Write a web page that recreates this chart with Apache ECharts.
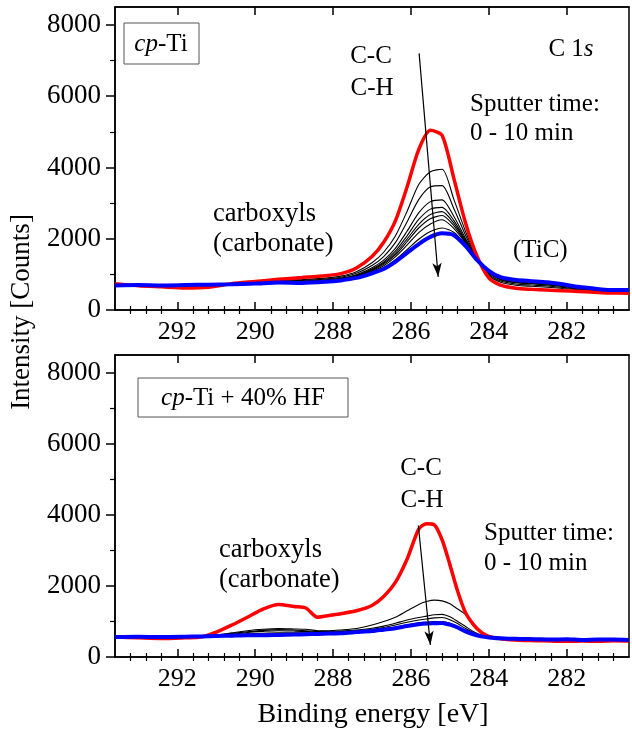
<!DOCTYPE html>
<html>
<head>
<meta charset="utf-8">
<script src="https://cdn.jsdelivr.net/npm/echarts@6/dist/echarts.min.js"></script>
<style>
html,body{margin:0;padding:0;background:#fff;}
#chart{width:632px;height:742px;}
</style>
</head>
<body>
<div id="chart"></div>
<script>
// binding energy (eV) sampled for each panel
var energyTop = [293.6, 293.0, 292.4, 291.8, 291.2, 290.6, 290.0, 289.4, 288.8, 288.2, 287.8, 287.4, 287.0, 286.7, 286.4, 286.1, 285.8, 285.5, 285.2, 284.9, 284.6, 284.3, 284.0, 283.7, 283.3, 282.9, 282.5, 282.1, 281.7, 281.3, 280.9, 280.4];
var redTop  = [740, 680, 650, 620, 640, 740, 800, 860, 910, 960, 1020, 1180, 1500, 1900, 2500, 3450, 4500, 5040, 4900, 3700, 2450, 1500, 900, 700, 610, 580, 560, 540, 520, 500, 480, 470];
var blueTop = [690, 700, 690, 700, 710, 720, 740, 770, 760, 790, 830, 900, 1030, 1150, 1350, 1600, 1850, 2050, 2150, 2100, 1800, 1400, 1100, 920, 840, 810, 780, 720, 650, 600, 560, 560];
// intermediate sputter steps (black)
var blackTop = [
  [720, 690, 665, 650, 665, 735, 780, 825, 855, 895, 950, 1075, 1325, 1620, 2075, 2765, 3520, 3880, 3950, 3110, 2210, 1460, 975, 780, 695, 665, 640, 605, 570, 535, 510, 505],
  [715, 690, 670, 660, 675, 730, 770, 810, 830, 870, 920, 1030, 1250, 1500, 1890, 2470, 3095, 3455, 3490, 2850, 2105, 1445, 1005, 815, 730, 700, 675, 635, 590, 555, 520, 520],
  [705, 695, 675, 675, 685, 725, 760, 800, 810, 845, 895, 990, 1185, 1400, 1730, 2210, 2725, 3040, 3090, 2630, 2015, 1435, 1035, 845, 765, 735, 705, 660, 605, 565, 535, 530],
  [700, 695, 680, 680, 690, 725, 755, 795, 800, 835, 880, 975, 1150, 1345, 1650, 2080, 2540, 2830, 2880, 2515, 1970, 1425, 1050, 865, 780, 750, 725, 675, 615, 575, 540, 535],
  [700, 695, 680, 685, 695, 725, 755, 790, 790, 825, 870, 960, 1130, 1310, 1590, 1990, 2405, 2680, 2760, 2435, 1935, 1420, 1060, 875, 790, 760, 735, 680, 625, 580, 545, 540],
  [700, 695, 685, 685, 700, 720, 750, 785, 785, 820, 860, 950, 1110, 1280, 1545, 1915, 2300, 2560, 2650, 2370, 1910, 1415, 1065, 885, 800, 770, 745, 690, 630, 585, 545, 545],
  [695, 700, 685, 690, 700, 720, 745, 780, 780, 810, 855, 935, 1085, 1240, 1490, 1820, 2170, 2410, 2530, 2290, 1880, 1410, 1075, 895, 810, 780, 755, 700, 635, 590, 550, 550],
  [695, 700, 690, 695, 705, 720, 745, 775, 770, 800, 840, 915, 1055, 1190, 1410, 1695, 1985, 2200, 2300, 2180, 1835, 1405, 1090, 910, 830, 800, 770, 710, 645, 595, 555, 555]
];

var energyBot = [293.6, 293.0, 292.4, 291.8, 291.4, 291.0, 290.6, 290.2, 289.8, 289.4, 289.0, 288.7, 288.4, 288.1, 287.8, 287.4, 287.0, 286.7, 286.4, 286.1, 285.8, 285.6, 285.4, 285.2, 285.0, 284.8, 284.6, 284.4, 284.2, 284.0, 283.6, 283.2, 282.8, 282.4, 282.0, 281.6, 281.2, 280.8, 280.4];
var redBot  = [560, 540, 520, 540, 560, 700, 900, 1120, 1350, 1480, 1420, 1380, 1120, 1170, 1220, 1300, 1450, 1700, 2100, 2750, 3600, 3750, 3720, 3300, 2600, 1850, 1250, 920, 700, 580, 500, 470, 460, 450, 440, 450, 440, 460, 450];
var blueBot = [560, 570, 560, 570, 580, 590, 600, 610, 610, 620, 630, 640, 650, 660, 670, 700, 730, 770, 810, 870, 920, 940, 950, 960, 910, 830, 720, 640, 580, 550, 520, 510, 500, 490, 500, 480, 490, 490, 480];
var blackBot = [
  [560, 555, 550, 560, 575, 620, 680, 740, 780, 800, 790, 780, 740, 740, 760, 800, 900, 1000, 1120, 1300, 1480, 1560, 1600, 1580, 1500, 1350, 1200, 950, 720, 600, 520, 490, 480, 470, 465, 470, 460, 470, 465],
  [560, 560, 555, 565, 575, 610, 660, 710, 750, 770, 760, 740, 720, 720, 730, 760, 810, 870, 950, 1040, 1110, 1150, 1190, 1200, 1130, 1000, 860, 720, 620, 570, 520, 500, 490, 480, 480, 475, 475, 480, 470],
  [560, 565, 560, 570, 580, 600, 640, 690, 720, 740, 730, 720, 700, 700, 715, 740, 780, 830, 900, 980, 1040, 1070, 1100, 1110, 1050, 940, 800, 690, 600, 560, 515, 505, 495, 485, 485, 480, 480, 485, 475],
  [560, 565, 560, 570, 580, 595, 620, 650, 670, 680, 680, 680, 670, 680, 690, 715, 750, 790, 840, 900, 960, 980, 1000, 1000, 950, 860, 750, 660, 590, 555, 515, 505, 495, 485, 490, 480, 485, 485, 475]
];

// axis ticks
var xMajorTicks = [282, 284, 286, 288, 290, 292];
var xMinorTicks = [280.8, 281.2, 281.6, 282.4, 282.8, 283.2, 283.6, 284.4, 284.8, 285.2, 285.6, 286.4, 286.8, 287.2, 287.6, 288.4, 288.8, 289.2, 289.6, 290.4, 290.8, 291.2, 291.6, 292.4, 292.8, 293.2];
var yMajorTicks = [0, 2000, 4000, 6000, 8000];
var yMinorTicks = [1000, 3000, 5000, 7000];

// arrows (sputter direction), in data units [energy, counts]
var arrowTop = [[285.79, 7200], [285.30, 930]];
var arrowBot = [[285.81, 3700], [285.50, 340]];

var FONT = 'Liberation Serif';
var chart = echarts.init(document.getElementById('chart'));

function pairs(xs, ys){
  return xs.map(function(x, i){ return [x, ys[i]]; });
}

var grids = [
  {left: 115, top: 7, width: 514, height: 303, show: true, borderColor: '#000', borderWidth: 1.5},
  {left: 115, top: 355, width: 514, height: 302, show: true, borderColor: '#000', borderWidth: 1.5}
];

var xAxes = [], yAxes = [];
[0, 1].forEach(function(g){
  var base = {gridIndex: g, type: 'value', min: 280.4, max: 293.6, inverse: true,
    splitLine: {show: false}, axisLine: {onZero: false, lineStyle: {color: '#000', width: 1.5}}};
  xAxes.push(Object.assign({}, base, {position: 'bottom',
    axisTick: {inside: true, length: 8, customValues: xMajorTicks, lineStyle: {color: '#000', width: 1.5}},
    axisLabel: {customValues: xMajorTicks, color: '#000', fontFamily: FONT, fontSize: 26, margin: 9,
      formatter: function(v){ return String(v); }}}));
  xAxes.push(Object.assign({}, base, {position: 'bottom', axisLine: {show: false},
    axisTick: {inside: true, length: 4, customValues: xMinorTicks, lineStyle: {color: '#000', width: 1.2}},
    axisLabel: {show: false}}));
  xAxes.push(Object.assign({}, base, {position: 'top',
    axisTick: {inside: true, length: 8, customValues: xMajorTicks, lineStyle: {color: '#000', width: 1.5}},
    axisLabel: {show: false}}));
  xAxes.push(Object.assign({}, base, {position: 'top', axisLine: {show: false},
    axisTick: {inside: true, length: 4, customValues: xMinorTicks, lineStyle: {color: '#000', width: 1.2}},
    axisLabel: {show: false}}));

  var ybase = {gridIndex: g, type: 'value', min: 0, max: 8500, position: 'left', splitLine: {show: false},
    axisLine: {show: true, onZero: false, lineStyle: {color: '#000', width: 1.5}}};
  yAxes.push(Object.assign({}, ybase, {
    axisTick: {show: true, length: 9, customValues: yMajorTicks, lineStyle: {color: '#000', width: 1.5}},
    axisLabel: {customValues: yMajorTicks, color: '#000', fontFamily: FONT, fontSize: 27, margin: 14,
      formatter: function(v){ return String(v); }}}));
  yAxes.push(Object.assign({}, ybase, {axisLine: {show: false},
    axisTick: {show: true, length: 5, customValues: yMinorTicks, lineStyle: {color: '#000', width: 1.2}},
    axisLabel: {show: false}}));
});

var series = [];
function addPanel(g, energy, black, red, blue, arrow){
  black.forEach(function(vals){
    series.push({type: 'line', xAxisIndex: 4 * g, yAxisIndex: 2 * g, data: pairs(energy, vals),
      showSymbol: false, smooth: 0.25, lineStyle: {color: '#000', width: 1.1}, z: 2});
  });
  series.push({type: 'line', xAxisIndex: 4 * g, yAxisIndex: 2 * g, data: pairs(energy, red),
    showSymbol: false, smooth: 0.25, lineStyle: {color: '#ff0000', width: 3.5}, z: 3});
  series.push({type: 'line', xAxisIndex: 4 * g, yAxisIndex: 2 * g, data: pairs(energy, blue),
    showSymbol: false, smooth: 0.25, lineStyle: {color: '#0000ff', width: 4}, z: 4,
    markLine: {silent: true, symbol: ['none', 'arrow'], symbolSize: [7, 14], label: {show: false},
      lineStyle: {color: '#000', width: 1.2, type: 'solid'},
      data: [[{coord: arrow[0]}, {coord: arrow[1]}]]}});
}
addPanel(0, energyTop, blackTop, redTop, blueTop, arrowTop);
addPanel(1, energyBot, blackBot, redBot, blueBot, arrowBot);

function txt(x, y, text, align, extra){
  var st = {text: text, x: 0, y: 0, fill: '#000', font: '25px "' + FONT + '"',
    textAlign: align || 'left', textVerticalAlign: 'middle'};
  if (extra) Object.assign(st, extra);
  return {type: 'text', x: x, y: y, z: 20, style: st};
}
var italic = {i: {fontStyle: 'italic', fontSize: 25, fontFamily: FONT}, n: {fontSize: 25, fontFamily: FONT}};
var big = {font: '26.5px "' + FONT + '"'};

var graphics = [
  {type: 'rect', z: 19, shape: {x: 124, y: 23, width: 75, height: 41}, style: {fill: '#fff', stroke: '#555', lineWidth: 1}},
  txt(161, 44, '{i|cp}{n|-Ti}', 'center', {rich: italic}),
  {type: 'rect', z: 19, shape: {x: 138, y: 378, width: 210, height: 39}, style: {fill: '#fff', stroke: '#555', lineWidth: 1}},
  txt(243, 398, '{i|cp}{n|-Ti + 40% HF}', 'center', {rich: italic}),
  // top panel
  txt(371, 56, 'C-C', 'center'),
  txt(372, 88, 'C-H', 'center'),
  txt(571, 49, '{n|C 1}{i|s}', 'center', {rich: italic}),
  txt(470, 104, 'Sputter time:'),
  txt(470, 133, '0 - 10 min'),
  txt(213, 214, 'carboxyls', 'left', big),
  txt(213, 244, '(carbonate)', 'left', big),
  txt(513, 250, '(TiC)'),
  // bottom panel
  txt(421, 468, 'C-C', 'center'),
  txt(422, 500, 'C-H', 'center'),
  txt(484, 533, 'Sputter time:'),
  txt(484, 563, '0 - 10 min'),
  txt(219, 550, 'carboxyls', 'left', big),
  txt(219, 580, '(carbonate)', 'left', big),
  // axis titles
  txt(373, 715, 'Binding energy [eV]', 'center', {font: '28px "' + FONT + '"'}),
  {type: 'text', x: 22, y: 312, rotation: Math.PI / 2, z: 20,
    style: {text: 'Intensity [Counts]', x: 0, y: 0, fill: '#000', font: '27px "' + FONT + '"',
      textAlign: 'center', textVerticalAlign: 'middle'}}
];

chart.setOption({
  animation: false,
  backgroundColor: '#fff',
  grid: grids,
  xAxis: xAxes,
  yAxis: yAxes,
  series: series,
  graphic: graphics
});
</script>
</body>
</html>
